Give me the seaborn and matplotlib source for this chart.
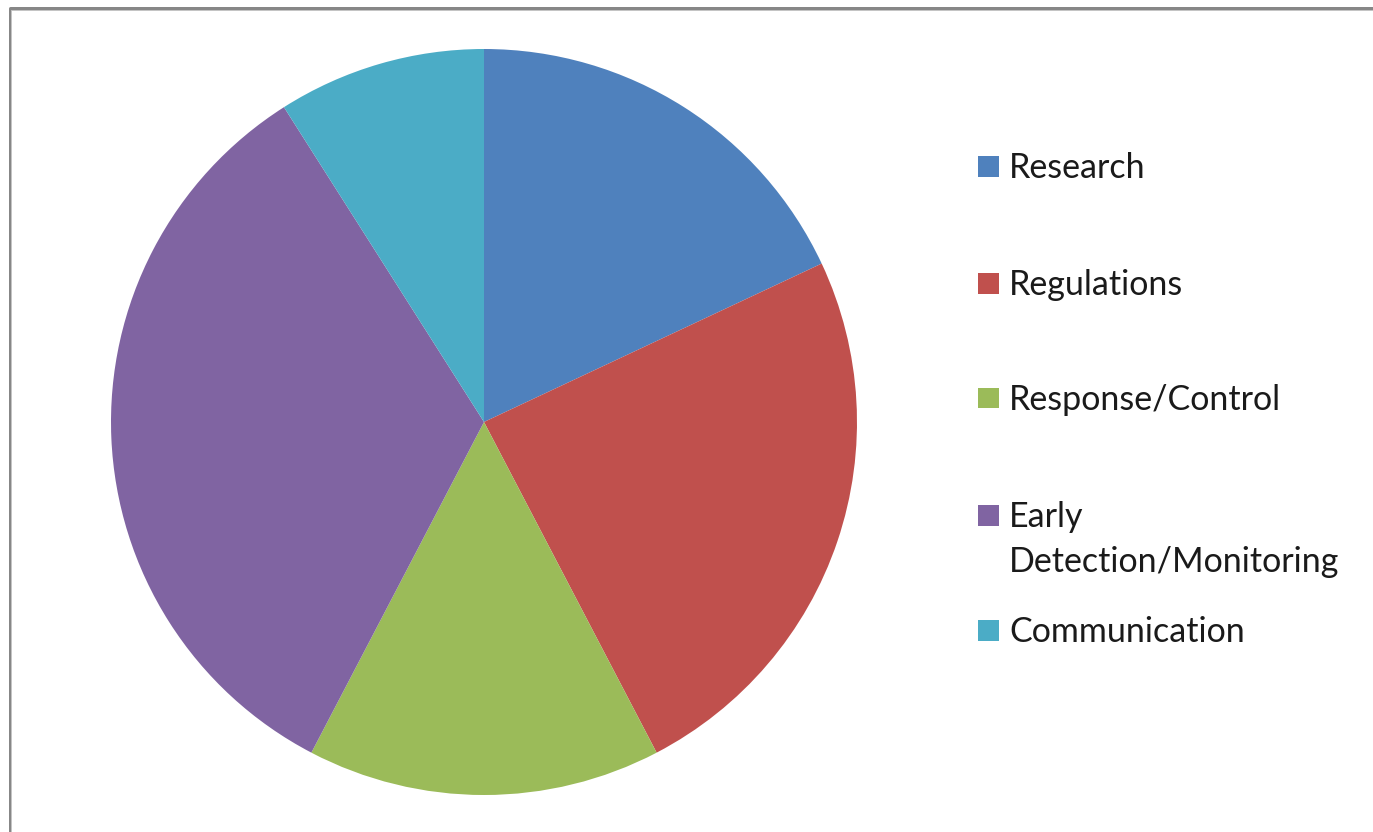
import matplotlib
matplotlib.use("Agg")
import matplotlib.pyplot as plt
from matplotlib.lines import Line2D
from matplotlib.patches import Rectangle
import seaborn as sns

categories = ["Research", "Regulations", "Response/Control",
              "Early\nDetection/Monitoring", "Communication"]
values = [20, 27, 17, 37, 10]
colors = ["#4F81BD", "#C0504D", "#9BBB59", "#8064A2", "#4BACC6"]

sns.set_theme(style="white")
plt.rcParams["font.family"] = ["Lato", "DejaVu Sans"]

W, H, DPI = 1373, 832, 100
fig = plt.figure(figsize=(W / DPI, H / DPI), dpi=DPI)
fig.patch.set_facecolor("white")

# pie axes (pixel geometry)
cx, cy, r = 484, 422, 373
ax = fig.add_axes([(cx - r) / W, (H - cy - r) / H, 2 * r / W, 2 * r / H])
ax.pie(values, colors=colors, startangle=90, counterclock=False,
       wedgeprops=dict(linewidth=0))
ax.set_xlim(-1, 1)
ax.set_ylim(-1, 1)
ax.set_aspect("equal")
ax.axis("off")

# legend (manual, to match Excel-style layout)
sq = 21
text_x = 1009
line_centers = [166, 283, 398, 515, 630]
fs = 24.5
for lab, col, yc in zip(categories, colors, line_centers):
    fig.patches.append(Rectangle((978 / W, (H - yc - sq / 2) / H), sq / W, sq / H,
                                 transform=fig.transFigure, facecolor=col,
                                 edgecolor="none"))
    lines = lab.split("\n")
    for k, txt in enumerate(lines):
        fig.text(text_x / W, (H - yc - 12 - 45 * k) / H, txt, ha="left",
                 va="baseline", fontsize=fs, color="#1a1a1a")

# chart frame (partial border as in reference)
fig.lines.append(Line2D([9.5 / W, 9.5 / W, 1.0], [0.0, (H - 7.5) / H, (H - 7.5) / H],
                        transform=fig.transFigure, color="#878787", linewidth=3 * 72 / DPI))
fig.lines.append(Line2D([11.5 / W, 11.5 / W, 1.0], [0.0, (H - 9.5) / H, (H - 9.5) / H],
                        transform=fig.transFigure, color="#c4c4c4", linewidth=1 * 72 / DPI))

fig.savefig("out.png", dpi=DPI, facecolor="white")
